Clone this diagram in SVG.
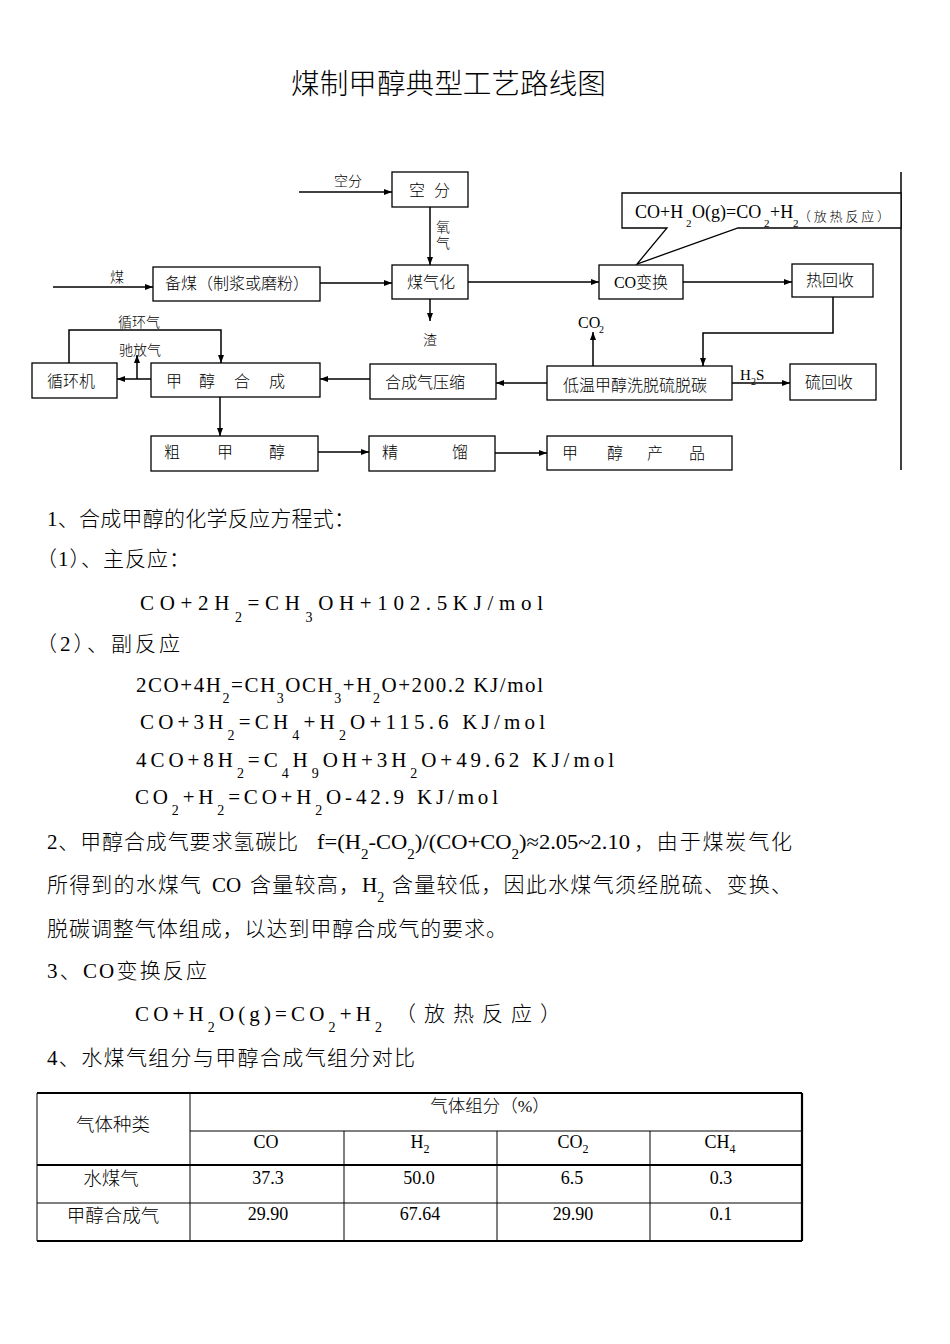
<svg xmlns="http://www.w3.org/2000/svg" width="950" height="1344" viewBox="0 0 950 1344">
<style>
.box{fill:#fff;stroke:#000;stroke-width:1.3}
.ln{fill:none;stroke:#000;stroke-width:1.5}
.arr{fill:none;stroke:#000;stroke-width:1.5;marker-end:url(#ah)}
.t{font-family:"Liberation Serif","Noto Sans CJK SC",serif;font-weight:300;fill:#000}
.bx{font-size:16px;text-anchor:middle}
.lb{font-size:14px;text-anchor:middle}
.body{font-size:21px}
.sub{font-size:14px}
.tb{font-size:18px;text-anchor:middle}
.tl{stroke:#000;stroke-width:1}
.tk{stroke:#000;stroke-width:2.2}
</style>
<defs>
<marker id="ah" viewBox="0 0 8 6" refX="8" refY="3" markerWidth="8" markerHeight="6" markerUnits="userSpaceOnUse" orient="auto"><path d="M0,0L8,3L0,6z" fill="#000"/></marker>
</defs>
<rect width="950" height="1344" fill="#fff"/>

<text class="t" x="291" y="94" font-size="28" textLength="315" lengthAdjust="spacingAndGlyphs">煤制甲醇典型工艺路线图</text>

<g id="connectors">
<line class="arr" x1="299" y1="192" x2="392" y2="192"/>
<line class="arr" x1="430" y1="207" x2="430" y2="265"/>
<line class="arr" x1="53" y1="287" x2="153" y2="287"/>
<line class="arr" x1="320" y1="283" x2="392" y2="283"/>
<line class="arr" x1="468" y1="282" x2="599" y2="282"/>
<line class="arr" x1="683" y1="282" x2="792" y2="282"/>
<line class="arr" x1="430" y1="299" x2="430" y2="321"/>
<polyline class="arr" points="833,297 833,333 703,333 703,366"/>
<line class="arr" x1="593" y1="366" x2="593" y2="332"/>
<line class="arr" x1="732" y1="383" x2="790" y2="383"/>
<line class="arr" x1="547" y1="383" x2="496" y2="383"/>
<line class="arr" x1="370" y1="379" x2="320" y2="379"/>
<line class="arr" x1="151" y1="379" x2="117" y2="379"/>
<line class="arr" x1="137" y1="379" x2="137" y2="355"/>
<polyline class="arr" points="69,363 69,330 221,330 221,363"/>
<line class="arr" x1="220" y1="397" x2="220" y2="436"/>
<line class="arr" x1="318" y1="452" x2="369" y2="452"/>
<line class="arr" x1="495" y1="453" x2="547" y2="453"/>
<line class="ln" x1="901" y1="172" x2="901" y2="470"/>
</g>

<g id="labels" class="t">
<text class="lb" x="348" y="186" font-size="15">空分</text>
<text class="lb" x="443" y="232">氧</text>
<text class="lb" x="443" y="248">气</text>
<text class="lb" x="117" y="282">煤</text>
<text class="lb" x="430" y="345">渣</text>
<text class="lb" x="139" y="327">循环气</text>
<text class="lb" x="140" y="355">驰放气</text>
<text x="578" y="328" font-size="16">CO<tspan x="599" y="333" font-size="10">2</tspan></text>
<text x="740" y="380" font-size="15">H<tspan x="751" y="385" font-size="10">2</tspan><tspan x="756" y="380">S</tspan></text>
</g>

<g id="callout">
<path class="box" d="M667,228 L622,228 L622,193 L901,193 L901,228 L738,228 L637,264 Z"/>
<text class="t" x="635" y="218" font-size="18">CO+H<tspan x="686" y="227" font-size="11">2</tspan><tspan x="692" y="218">O(g)=CO</tspan><tspan x="764" y="227" font-size="11">2</tspan><tspan x="770" y="218">+H</tspan><tspan x="793" y="227" font-size="11">2</tspan></text>
<text class="t" x="798" y="221" font-size="13" textLength="92">（放热反应）</text>
</g>

<g id="n-kongfen"><rect class="box" x="392" y="172" width="76" height="35"/><text class="t bx" x="417" y="196" font-size="17">空</text><text class="t bx" x="442" y="196" font-size="17">分</text></g>
<g id="n-beimei"><rect class="box" x="153" y="267" width="167" height="34"/><text class="t bx" x="237" y="289">备煤（制浆或磨粉）</text></g>
<g id="n-meiqihua"><rect class="box" x="392" y="265" width="76" height="34"/><text class="t bx" x="431" y="288">煤气化</text></g>
<g id="n-cobianhuan"><rect class="box" x="599" y="265" width="84" height="34"/><text class="t bx" x="641" y="288">CO变换</text></g>
<g id="n-rehuishou"><rect class="box" x="792" y="264" width="81" height="33"/><text class="t bx" x="830" y="286">热回收</text></g>
<g id="n-diwen"><rect class="box" x="547" y="366" width="185" height="34"/><text class="t bx" x="635" y="391" font-size="16.5">低温甲醇洗脱硫脱碳</text></g>
<g id="n-liuhuishou"><rect class="box" x="790" y="364" width="86" height="36"/><text class="t bx" x="829" y="388">硫回收</text></g>
<g id="n-yasuo"><rect class="box" x="370" y="364" width="126" height="35"/><text class="t bx" x="425" y="388" font-size="16.5">合成气压缩</text></g>
<g id="n-hecheng"><rect class="box" x="151" y="363" width="169" height="34"/><text class="t bx" x="174" y="387">甲</text><text class="t bx" x="207" y="387">醇</text><text class="t bx" x="242" y="387">合</text><text class="t bx" x="277" y="387">成</text></g>
<g id="n-xunhuanji"><rect class="box" x="32" y="363" width="85" height="35"/><text class="t bx" x="71" y="387">循环机</text></g>
<g id="n-cujiachun"><rect class="box" x="151" y="436" width="167" height="35"/><text class="t bx" x="172" y="458">粗</text><text class="t bx" x="225" y="458">甲</text><text class="t bx" x="277" y="458">醇</text></g>
<g id="n-jingliu"><rect class="box" x="369" y="436" width="126" height="35"/><text class="t bx" x="390" y="458">精</text><text class="t bx" x="460" y="458">馏</text></g>
<g id="n-chanpin"><rect class="box" x="547" y="436" width="185" height="34"/><text class="t bx" x="570" y="459">甲</text><text class="t bx" x="615" y="459">醇</text><text class="t bx" x="655" y="459">产</text><text class="t bx" x="697" y="459">品</text></g>

<g id="text" class="t body">
<text x="47" y="526" textLength="308" lengthAdjust="spacing">1、合成甲醇的化学反应方程式：</text>
<text x="36" y="566" textLength="154" lengthAdjust="spacing">（1）、主反应：</text>
<text x="140" y="610" textLength="403" lengthAdjust="spacing">CO+2H<tspan class="sub" dy="12">2</tspan><tspan dy="-12">=CH</tspan><tspan class="sub" dy="12">3</tspan><tspan dy="-12">OH+102.5KJ/mol</tspan></text>
<text x="36" y="651" textLength="144" lengthAdjust="spacing">（2）、副反应</text>
<text x="136" y="692" textLength="407" lengthAdjust="spacing">2CO+4H<tspan class="sub" dy="11">2</tspan><tspan dy="-11">=CH</tspan><tspan class="sub" dy="11">3</tspan><tspan dy="-11">OCH</tspan><tspan class="sub" dy="11">3</tspan><tspan dy="-11">+H</tspan><tspan class="sub" dy="11">2</tspan><tspan dy="-11">O+200.2 KJ/mol</tspan></text>
<text x="140" y="729" textLength="405" lengthAdjust="spacing">CO+3H<tspan class="sub" dy="11">2</tspan><tspan dy="-11">=CH</tspan><tspan class="sub" dy="11">4</tspan><tspan dy="-11">+H</tspan><tspan class="sub" dy="11">2</tspan><tspan dy="-11">O+115.6 KJ/mol</tspan></text>
<text x="136" y="767" textLength="478" lengthAdjust="spacing">4CO+8H<tspan class="sub" dy="11">2</tspan><tspan dy="-11">=C</tspan><tspan class="sub" dy="11">4</tspan><tspan dy="-11">H</tspan><tspan class="sub" dy="11">9</tspan><tspan dy="-11">OH+3H</tspan><tspan class="sub" dy="11">2</tspan><tspan dy="-11">O+49.62 KJ/mol</tspan></text>
<text x="135" y="804" textLength="363" lengthAdjust="spacing">CO<tspan class="sub" dy="11">2</tspan><tspan dy="-11">+H</tspan><tspan class="sub" dy="11">2</tspan><tspan dy="-11">=CO+H</tspan><tspan class="sub" dy="11">2</tspan><tspan dy="-11">O-42.9 KJ/mol</tspan></text>

<text x="47" y="849" textLength="251" lengthAdjust="spacing">2、甲醇合成气要求氢碳比</text>
<text x="317" y="849" textLength="313" lengthAdjust="spacingAndGlyphs">f=(H<tspan class="sub" dy="10">2</tspan><tspan dy="-10">-CO</tspan><tspan class="sub" dy="10">2</tspan><tspan dy="-10">)/(CO+CO</tspan><tspan class="sub" dy="10">2</tspan><tspan dy="-10">)≈2.05~2.10</tspan></text>
<text x="634" y="849" textLength="158" lengthAdjust="spacing">，由于煤炭气化</text>

<text x="47" y="892" textLength="154" lengthAdjust="spacing">所得到的水煤气</text>
<text x="212" y="892">CO</text>
<text x="250" y="892" textLength="110" lengthAdjust="spacing">含量较高，</text>
<text x="362" y="892">H<tspan class="sub" dy="10">2</tspan></text>
<text x="392" y="892" textLength="400" lengthAdjust="spacing">含量较低，因此水煤气须经脱硫、变换、</text>

<text x="47" y="936" textLength="460" lengthAdjust="spacing">脱碳调整气体组成，以达到甲醇合成气的要求。</text>
<text x="47" y="978" textLength="160" lengthAdjust="spacing">3、CO变换反应</text>
<text x="135" y="1021" textLength="247" lengthAdjust="spacing">CO+H<tspan class="sub" dy="11">2</tspan><tspan dy="-11">O(g)=CO</tspan><tspan class="sub" dy="11">2</tspan><tspan dy="-11">+H</tspan><tspan class="sub" dy="11">2</tspan></text>
<text x="395" y="1021" textLength="166" lengthAdjust="spacing">（放热反应）</text>
<text x="47" y="1065" textLength="368" lengthAdjust="spacing">4、水煤气组分与甲醇合成气组分对比</text>
</g>

<g id="table">
<line class="tk" x1="37" y1="1093" x2="802" y2="1093"/>
<line class="tl" x1="190" y1="1131" x2="802" y2="1131"/>
<line class="tk" x1="37" y1="1165" x2="802" y2="1165"/>
<line class="tl" x1="37" y1="1203" x2="802" y2="1203"/>
<line class="tk" x1="37" y1="1241" x2="802" y2="1241"/>
<line class="tl" x1="37" y1="1093" x2="37" y2="1241"/>
<line class="tl" x1="190" y1="1093" x2="190" y2="1241"/>
<line class="tl" x1="344" y1="1131" x2="344" y2="1241"/>
<line class="tl" x1="497" y1="1131" x2="497" y2="1241"/>
<line class="tl" x1="650" y1="1131" x2="650" y2="1241"/>
<line class="tk" x1="802" y1="1093" x2="802" y2="1241"/>
<g class="t tb">
<text x="490" y="1112" font-size="17.5">气体组分（%）</text>
<text x="113" y="1131" font-size="18.5">气体种类</text>
<text x="266" y="1148">CO</text>
<text x="420" y="1148">H<tspan font-size="12" dy="5">2</tspan></text>
<text x="573" y="1148">CO<tspan font-size="12" dy="5">2</tspan></text>
<text x="720" y="1148">CH<tspan font-size="12" dy="5">4</tspan></text>
<text x="111" y="1185" font-size="18.5">水煤气</text>
<text x="113" y="1222" font-size="18.5">甲醇合成气</text>
<text x="268" y="1184">37.3</text>
<text x="419" y="1184">50.0</text>
<text x="572" y="1184">6.5</text>
<text x="721" y="1184">0.3</text>
<text x="268" y="1220">29.90</text>
<text x="420" y="1220">67.64</text>
<text x="573" y="1220">29.90</text>
<text x="721" y="1220">0.1</text>
</g>
</g>
</svg>
